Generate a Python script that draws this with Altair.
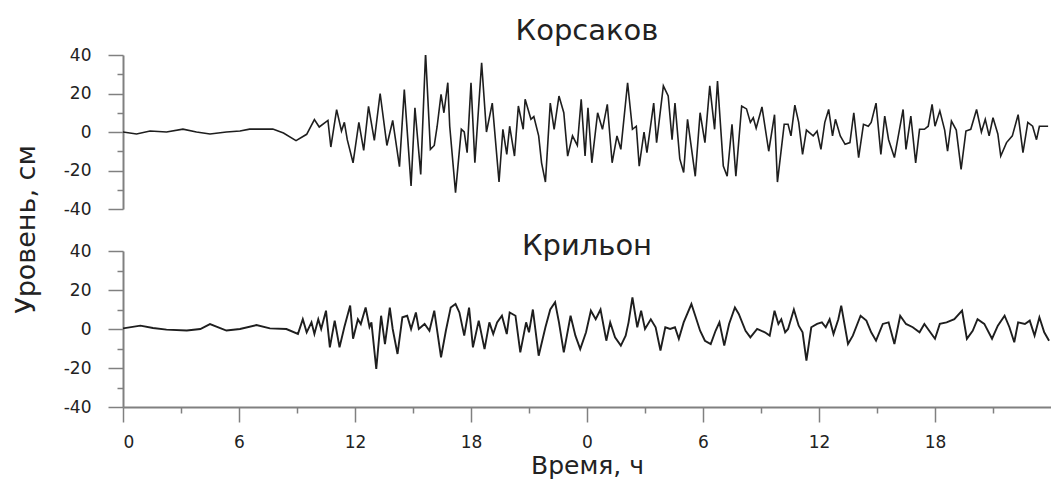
import altair as alt
import pandas as pd

# ---------------- data ----------------
korsakov_hours = [0.0, 0.7, 1.4, 2.25, 3.1, 3.8, 4.5, 5.35, 6.05, 6.55, 7.25, 7.75, 8.3, 8.95, 9.5, 9.9,
                  10.15, 10.6, 10.75, 11.05, 11.3, 11.45, 11.6, 11.9, 12.2, 12.45, 12.7, 13.0, 13.3, 13.65,
                  13.95, 14.3, 14.55, 14.9, 15.1, 15.4, 15.65, 15.9, 16.1, 16.25, 16.45, 16.6, 16.8, 16.9,
                  17.2, 17.5, 17.65, 17.8, 18.0, 18.2, 18.55, 18.8, 19.1, 19.45, 19.65, 19.85, 20.0, 20.25,
                  20.45, 20.7, 20.8, 21.1, 21.25, 21.5, 21.65, 21.85, 22.1, 22.3, 22.55, 22.8, 23.0, 23.25,
                  23.5, 23.7, 23.9, 24.05, 24.25, 24.55, 24.8, 25.05, 25.3, 25.55, 25.75, 26.1, 26.35, 26.55,
                  26.7, 26.95, 27.1, 27.45, 27.6, 27.95, 28.2, 28.4, 28.55, 28.8, 29.0, 29.2, 29.6, 29.85,
                  30.1, 30.35, 30.6, 30.75, 31.05, 31.25, 31.5, 31.7, 32.0, 32.25, 32.45, 32.6, 32.75, 33.05,
                  33.4, 33.7, 33.85, 34.2, 34.4, 34.55, 34.75, 34.95, 35.15, 35.35, 35.7, 35.9, 36.1, 36.3,
                  36.5, 36.7, 36.85, 37.1, 37.35, 37.6, 37.8, 38.05, 38.3, 38.55, 38.7, 38.95, 39.2, 39.4,
                  39.6, 39.9, 40.35, 40.5, 40.75, 41.0, 41.2, 41.45, 41.65, 41.85, 42.0, 42.25, 42.5, 42.65,
                  42.85, 43.1, 43.35, 43.6, 43.85, 44.15, 44.4, 44.6, 44.8, 45.0, 45.25, 45.4, 45.7, 46.0,
                  46.3, 46.55, 46.8, 47.05, 47.25, 47.4, 47.85]
korsakov_level = [0, -1, 0.5, 0, 1.5, 0, -1, 0, 0.5, 1.5, 1.5, 1.5, -0.5, -4.5, -1.2, 6.4,
                  2.6, 6, -7.8, 11.6, 0.5, 5, -4, -16, 5, -9.5, 13.3, -4.3, 20, -7,
                  6, -18, 22, -28, 12.6, -22, 41, -9, -7, 3, 19.5, 10, 25.6, 3,
                  -31.5, 1.4, 0, -10.7, 25.6, -16, 36, 0, 15, -26, 1.4, -11.6, 3, -12.5,
                  13.5, 1.4, 17, 6.6, 8, -2, -16, -26, 15, 1.4, 18.7, 10, -12.5, -2,
                  -7, 17, -12.5, 12.6, -16, 10, 1.4, 14.4, -16, -2, -9, 25.6, 1.4, 3,
                  -17.7, 0, -10.7, 15, -5.5, 24, 18.7, -4, 15, -14, -21, 6.6, -23, 10,
                  -5.5, 24, 1.4, 26.5, -17.7, -23, 4, -23, 13.5, 12, 5, 7.4, 2, 13,
                  -10, 9, -26, 4, 4, -2, 14, 5, -11.6, 1, -2, 0.5, -9, 5,
                  11.7, -2, 6.6, -2, -6.4, -5.5, 10, -13.3, 4, 3, 5, 15, -11.6, 8.3,
                  -4, -13.3, 11.7, -9, 8.3, -16, 1.4, 1.4, 3, 14.4, 3, 11, 1, -10,
                  5.7, 1, -19.4, 0.5, 1.4, 11.7, 0, 6.6, -2, 7.4, -1, -12.5, -5.5, -2,
                  9, -10.7, 5, 3, -4, 3, 3]

krilon_hours = [0.0, 0.9, 1.55, 2.25, 3.3, 4.0, 4.5, 5.35, 6.05, 6.9, 7.6, 8.45, 9.05, 9.3, 9.5, 9.75,
                9.9, 10.1, 10.25, 10.5, 10.7, 10.95, 11.2, 11.45, 11.75, 11.9, 12.15, 12.3, 12.55, 12.75,
                12.85, 13.1, 13.35, 13.55, 13.8, 13.95, 14.2, 14.45, 14.7, 14.9, 15.15, 15.3, 15.6, 15.85,
                16.1, 16.45, 16.7, 16.95, 17.2, 17.4, 17.65, 17.9, 18.1, 18.4, 18.7, 18.95, 19.15, 19.35,
                19.6, 19.85, 20.0, 20.3, 20.55, 20.85, 21.0, 21.2, 21.5, 21.85, 22.1, 22.35, 22.55, 22.8,
                23.15, 23.4, 23.65, 23.95, 24.2, 24.45, 24.7, 25.0, 25.2, 25.45, 25.75, 26.0, 26.15, 26.35,
                26.6, 26.8, 27.0, 27.3, 27.55, 27.8, 28.05, 28.3, 28.55, 28.75, 29.0, 29.4, 29.6, 29.85,
                30.1, 30.4, 30.65, 30.85, 31.1, 31.35, 31.65, 31.85, 32.2, 32.45, 32.8, 33.2, 33.45, 33.7,
                33.9, 34.05, 34.25, 34.4, 34.7, 34.95, 35.15, 35.35, 35.6, 35.9, 36.15, 36.35, 36.55, 36.75,
                37.0, 37.15, 37.5, 37.75, 38.15, 38.45, 38.7, 38.95, 39.3, 39.6, 39.9, 40.2, 40.5, 40.85,
                41.2, 41.45, 41.7, 42.0, 42.25, 42.6, 43.0, 43.4, 43.65, 43.95, 44.2, 44.55, 44.95, 45.25,
                45.6, 45.85, 46.1, 46.3, 46.65, 46.9, 47.15, 47.4, 47.65, 47.9]
krilon_level = [0.3, 1.7, 0.5, -0.3, -0.8, 0, 2.5, -0.8, 0, 2, 0.3, 0, -2.5, 5, -1.7, 3.4,
                -2.5, 5, 0, 9.4, -9.4, 4.3, -9.4, 1, 12, -5, 5, 2.5, 11, 1,
                3.4, -20.5, 6.8, -7.7, 11, 0, -12.8, 6, 6.8, 0, 8.5, 0, 2.6, -0.9,
                9.4, -14.5, -0.9, 11, 12.8, 8.5, -3.4, 11, -9.4, 4.3, -10.3, 3.4, -2.6, 3.4,
                6.8, -2.6, 8.5, 6.8, -12, 3.4, -1.7, 10, -13.7, 0.9, 10, 13.7, 3.4, -12,
                6.8, -3.4, -10.3, -1.7, 9.4, 5, 10, -6, 3.4, -4.3, -8.5, -3.4, 3.4, 16.2,
                0.9, 9.4, 0, 5, 0.9, -11, 0.9, 0, 0.9, -5, 3.4, 12.8, 6.8, -0.9,
                -6, -7.7, -0.9, 3.4, -8.5, 2.6, 11, 7.7, -0.9, -4.3, 0, -1.7, -3.4, 9.4,
                2.6, 5, -1.7, 0, 10, 1.7, -1.7, -16.2, 0.9, 2.6, 3.4, 0.9, 5, -2.6,
                5, 12, -7.7, -3.4, 6.8, 4.3, -1.7, -6, 2.6, 3.4, -7.7, 6.8, 2.6, 0.9,
                -1.7, 2.6, -0.9, -5, 2.6, 3.4, 5, 9.4, -5, -0.9, 5, 2.6, -5, 1.7,
                6.8, 0.9, -6.8, 3.4, 2.6, 4.3, -3.4, 6, -1.7, -6]

x_major = [0, 6, 12, 18, 24, 30, 36, 42]
x_minor = [3, 9, 15, 21, 27, 33, 39, 45]
y_major = [-40, -20, 0, 20, 40]
y_minor = [-30, -10, 10, 30]

FONT = "DejaVu Sans"
INK = "#1e1e1e"
AXC = "#808080"
W, H_TOP, H_BOT = 928, 154, 156

kors = pd.DataFrame({"t": korsakov_hours, "v": korsakov_level})
kril = pd.DataFrame({"t": krilon_hours, "v": krilon_level})

xs = alt.Scale(domain=[0, 48], nice=False, zero=False)
ys = alt.Scale(domain=[-40, 40], nice=False)

def y_major_axis(title=None):
    args = dict(values=y_major, orient="left", tickSize=15, tickWidth=1.5, tickColor=AXC,
                domainColor=AXC, domainWidth=2, labelPadding=17, labelFontSize=17,
                labelFont=FONT, labelColor="#222", grid=False, labelFlush=False,
                labelExpr="'' + datum.value")
    if title:
        args.update(title=title, titleFont=FONT, titleFontSize=27, titleFontWeight="normal",
                    titleColor="#222", titleX=-83, titleY=174)
    else:
        args.update(title=None)
    return alt.Axis(**args)

y_minor_axis = alt.Axis(values=y_minor, orient="left", tickSize=6, tickWidth=1.5, tickColor=AXC,
                        domain=False, labels=False, title=None, grid=False)

def panel(df, title_text, title_offset, height, bottom, width_stroke):
    base = alt.Chart(df)
    if bottom:
        xa_major = alt.Axis(values=x_major, orient="bottom", tickSize=15, tickWidth=1.5, tickColor=AXC,
                            domainColor=AXC, domainWidth=2, labelPadding=12, labelFontSize=17,
                            labelFont=FONT, labelColor="#222", grid=False,
                            labelExpr="'' + (datum.value % 24)",
                            title="Время, ч", titleFont=FONT, titleFontSize=25,
                            titleFontWeight="normal", titleColor="#222", titlePadding=3)
        xa_minor = alt.Axis(values=x_minor, orient="bottom", tickSize=6, tickWidth=1.5, tickColor=AXC,
                            domain=False, labels=False, title=None, grid=False)
        ya = y_major_axis()
    else:
        xa_major = None
        xa_minor = None
        ya = y_major_axis("Уровень, см")
    line = base.mark_line(color=INK, strokeWidth=width_stroke, clip=True).encode(
        x=alt.X("t:Q", scale=xs, axis=xa_major),
        y=alt.Y("v:Q", scale=ys, axis=ya),
    )
    minor = base.mark_line(opacity=0, clip=True).encode(
        x=alt.X("t:Q", scale=xs, axis=xa_minor),
        y=alt.Y("v:Q", scale=ys, axis=y_minor_axis),
    )
    return alt.layer(line, minor).resolve_axis(x="independent", y="independent").properties(
        width=W, height=height,
        title=alt.TitleParams(title_text, font=FONT, fontSize=29, fontWeight="normal", color="#222",
                              anchor="middle", frame="group", baseline="alphabetic",
                              offset=title_offset),
    )

top = panel(kors, "Корсаков", -23, H_TOP, False, 1.6)
bot = panel(kril, "Крильон", -42, H_BOT, True, 1.9)

chart = alt.vconcat(top, bot, spacing=42, bounds="flush").properties(
    padding={"left": 12, "top": 17, "right": 0, "bottom": 2},
    background="white",
).configure_view(stroke=None)

chart.save("out.html", embed_options={"renderer": "svg", "actions": False})
